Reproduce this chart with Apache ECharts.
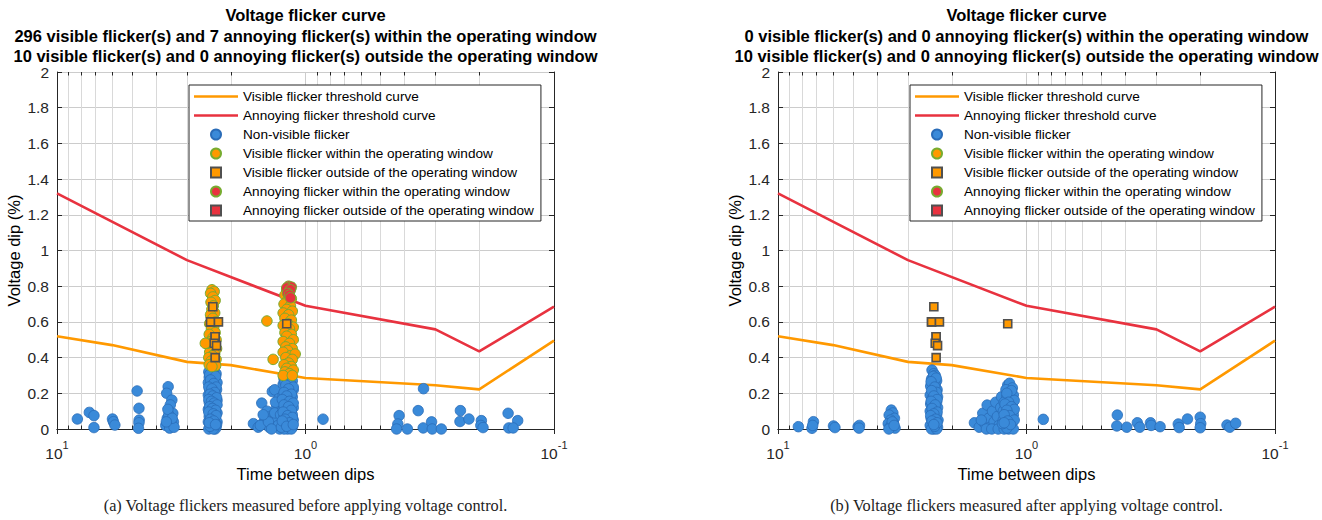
<!DOCTYPE html>
<html><head><meta charset="utf-8">
<script src="https://cdn.jsdelivr.net/npm/echarts@6/dist/echarts.min.js"></script>
<style>html,body{margin:0;padding:0;background:#fff}#c{width:1322px;height:520px}</style>
</head><body><div id="c"></div>
<script>
// ---------------- data ----------------
const TITLE_A = ['Voltage flicker curve',
  '296 visible flicker(s) and 7 annoying flicker(s) within the operating window',
  '10 visible flicker(s) and 0 annoying flicker(s) outside the operating window'];
const TITLE_B = ['Voltage flicker curve',
  '0 visible flicker(s) and 0 annoying flicker(s) within the operating window',
  '10 visible flicker(s) and 0 annoying flicker(s) outside the operating window'];
const CAPTION_A = '(a) Voltage flickers measured before applying voltage control.';
const CAPTION_B = '(b) Voltage flickers measured after applying voltage control.';
const X_NAME = 'Time between dips';
const Y_NAME = 'Voltage dip (%)';
const LEGEND_NAMES = ['Visible flicker threshold curve', 'Annoying flicker threshold curve',
  'Non-visible flicker', 'Visible flicker within the operating window',
  'Visible flicker outside of the operating window', 'Annoying flicker within the operating window',
  'Annoying flicker outside of the operating window'];

const VISIBLE_CURVE_X = [10, 6, 3, 2, 1, 0.3, 0.2, 0.1];
const VISIBLE_CURVE_Y = [0.52, 0.47, 0.376, 0.358, 0.286, 0.245, 0.222, 0.495];
const ANNOYING_CURVE_X = [10, 3, 1, 0.3, 0.2, 0.1];
const ANNOYING_CURVE_Y = [1.32, 0.946, 0.69, 0.558, 0.435, 0.685];

const MINOR_X = [9, 8, 7, 6, 5, 4, 3, 2, 0.9, 0.8, 0.7, 0.6, 0.5, 0.4, 0.3, 0.2];

// panel (a): before voltage control
const A_NONVISIBLE = [
  [8.28,0.056],[7.41,0.093],[7.10,0.075],[7.10,0.008],[5.98,0.056],[5.93,0.041],[5.85,0.022],
  [4.76,0.213],[4.68,0.116],[4.67,0.05],[4.68,0.035],[4.70,0.004],
  [3.57,0.237],[3.62,0.20],[3.45,0.162],[3.50,0.135],[3.42,0.088],[3.60,0.06],[3.48,0.03],[3.65,0.02],
  [3.52,0.005],[3.40,0.04],[3.55,0.08],[3.38,0.01],[3.58,0.11],[3.44,0.06],[3.63,0.04],
  [2.41,0.34],[2.33,0.33],[2.45,0.32],[2.29,0.31],[2.38,0.30],[2.44,0.29],[2.31,0.28],[2.36,0.27],
  [2.27,0.26],[2.46,0.26],[2.40,0.25],[2.33,0.24],[2.28,0.22],[2.43,0.22],[2.37,0.21],[2.30,0.19],
  [2.46,0.19],[2.39,0.18],[2.33,0.17],[2.27,0.16],[2.44,0.15],[2.36,0.14],[2.30,0.13],[2.41,0.12],
  [2.46,0.11],[2.33,0.10],[2.27,0.09],[2.39,0.08],[2.44,0.07],[2.31,0.06],[2.36,0.05],[2.27,0.04],
  [2.46,0.04],[2.41,0.03],[2.33,0.02],[2.29,0.01],[2.38,0.01],[2.45,0.00],[2.31,0.00],[2.35,0.00],
  [2.42,0.015],[2.28,0.025],
  [2.35,0.325],[2.43,0.305],[2.30,0.295],[2.41,0.275],[2.34,0.255],[2.29,0.235],[2.45,0.235],[2.38,0.225],
  [2.32,0.205],[2.42,0.195],[2.36,0.185],[2.28,0.175],[2.45,0.165],[2.39,0.155],[2.33,0.145],[2.27,0.135],
  [2.43,0.125],[2.37,0.115],[2.30,0.105],[2.45,0.095],[2.35,0.085],[2.29,0.075],[2.41,0.055],[2.34,0.045],
  [2.44,0.035],[2.30,0.025],
  [1.62,0.03],[1.55,0.01],[1.50,0.145],[1.47,0.04],[1.43,0.10],[1.40,0.01],[1.38,0.07],[1.36,0.21],
  [1.33,0.22],[1.35,0.03],[1.31,0.12],[1.30,0.05],[1.28,0.17],[1.27,0.00],[1.45,0.06],[1.52,0.02],
  [1.33,0.09],[1.29,0.02],[1.41,0.04],[1.37,0.00],[1.48,0.08],[1.26,0.08],[1.32,0.15],
  [1.20,0.30],[1.15,0.29],[1.22,0.28],[1.13,0.27],[1.18,0.26],[1.23,0.25],[1.14,0.24],[1.19,0.23],
  [1.12,0.22],[1.21,0.21],[1.16,0.20],[1.23,0.19],[1.13,0.18],[1.18,0.17],[1.21,0.15],[1.14,0.14],
  [1.19,0.13],[1.12,0.12],[1.23,0.11],[1.16,0.10],[1.20,0.09],[1.13,0.08],[1.22,0.07],[1.17,0.06],
  [1.12,0.05],[1.20,0.04],[1.15,0.03],[1.23,0.02],[1.13,0.01],[1.18,0.00],[1.22,0.00],[1.14,0.00],
  [1.25,0.01],
  [1.17,0.295],[1.21,0.265],[1.15,0.255],[1.20,0.245],[1.12,0.235],[1.17,0.225],[1.22,0.205],[1.14,0.195],
  [1.19,0.185],[1.24,0.165],[1.16,0.155],[1.12,0.145],[1.22,0.135],[1.17,0.125],[1.14,0.105],[1.23,0.095],
  [1.18,0.075],[1.13,0.065],[1.21,0.055],[1.16,0.035],[1.24,0.045],[1.19,0.015],[1.12,0.025],
  [0.85,0.055],[0.42,0.075],[0.425,0.028],[0.43,0.0],[0.389,0.0],[0.352,0.103],[0.335,0.226],
  [0.336,0.006],[0.311,0.04],[0.309,0.0],[0.284,0.0],[0.238,0.103],[0.239,0.042],[0.22,0.056],
  [0.196,0.047],[0.197,0.02],[0.193,0.008],[0.153,0.088],[0.152,0.006],[0.14,0.047],[0.146,0.006]
];
const A_VISIBLE_IN = [
  [2.38,0.78],[2.33,0.77],[2.41,0.76],[2.36,0.74],[2.31,0.72],[2.40,0.71],[2.35,0.69],[2.38,0.67],
  [2.32,0.65],[2.41,0.64],[2.36,0.62],[2.30,0.60],[2.43,0.59],[2.34,0.57],[2.39,0.56],[2.31,0.54],
  [2.44,0.53],[2.36,0.51],[2.29,0.50],[2.41,0.49],[2.34,0.47],[2.46,0.47],[2.38,0.45],[2.28,0.45],
  [2.43,0.43],[2.32,0.42],[2.37,0.41],[2.45,0.40],[2.29,0.39],[2.40,0.38],[2.34,0.37],[2.44,0.36],
  [2.30,0.355],[2.38,0.35],[2.47,0.48],[2.53,0.48],
  [1.19,0.78],[1.16,0.77],[1.21,0.75],[1.14,0.73],[1.18,0.72],[1.22,0.70],[1.15,0.69],[1.19,0.67],
  [1.13,0.66],[1.23,0.65],[1.17,0.64],[1.21,0.62],[1.14,0.61],[1.18,0.59],[1.23,0.58],[1.12,0.57],
  [1.16,0.56],[1.21,0.54],[1.14,0.53],[1.19,0.52],[1.12,0.50],[1.23,0.49],[1.16,0.48],[1.20,0.46],
  [1.13,0.45],[1.18,0.44],[1.23,0.43],[1.15,0.41],[1.10,0.42],[1.20,0.40],[1.13,0.39],[1.17,0.37],
  [1.22,0.36],[1.14,0.35],[1.19,0.34],[1.12,0.33],[1.21,0.32],[1.16,0.31],[1.23,0.30],[1.13,0.30],
  [1.43,0.605],[1.35,0.39]
];
const A_VISIBLE_OUT = [[2.36,0.685],[2.41,0.60],[2.41,0.60],[2.24,0.60],[2.31,0.517],[2.31,0.517],
  [2.33,0.48],[2.28,0.467],[2.31,0.40],[1.19,0.59]];
const A_ANNOYING_IN = [[1.17,0.80],[1.14,0.795],[1.19,0.79],[1.15,0.78],[1.18,0.76],[1.16,0.75],[1.15,0.735]];
const A_ANNOYING_OUT = [];

// panel (b): after voltage control
const B_NONVISIBLE = [
  [8.28,0.013],[7.3,0.004],[7.2,0.041],[7.25,0.02],[5.98,0.017],[5.9,0.008],[4.76,0.013],[4.70,0.02],[4.72,0.005],
  [3.50,0.106],[3.45,0.09],[3.57,0.078],[3.40,0.06],[3.52,0.05],[3.60,0.03],[3.43,0.032],[3.48,0.015],
  [3.38,0.005],[3.55,0.01],[3.47,0.04],[3.58,0.0],[3.41,0.02],
  [2.40,0.33],[2.36,0.31],[2.33,0.30],[2.41,0.28],[2.30,0.27],[2.37,0.26],[2.33,0.245],[2.43,0.24],
  [2.29,0.22],[2.38,0.21],[2.34,0.20],[2.44,0.19],[2.28,0.18],[2.40,0.17],[2.35,0.16],[2.30,0.15],
  [2.43,0.14],[2.37,0.13],[2.28,0.12],[2.33,0.11],[2.44,0.10],[2.39,0.09],[2.30,0.08],[2.35,0.07],
  [2.42,0.06],[2.27,0.05],[2.38,0.04],[2.32,0.03],[2.44,0.02],[2.28,0.01],[2.36,0.00],[2.41,0.00],
  [2.30,0.00],[2.34,0.015],
  [2.37,0.295],[2.31,0.285],[2.42,0.265],[2.34,0.235],[2.30,0.205],[2.41,0.215],[2.36,0.185],[2.29,0.165],
  [2.42,0.155],[2.33,0.135],[2.40,0.115],[2.29,0.095],[2.36,0.085],[2.43,0.075],[2.32,0.055],[2.40,0.045],
  [2.29,0.035],[2.36,0.025],
  [1.62,0.035],[1.55,0.01],[1.50,0.088],[1.47,0.03],[1.44,0.134],[1.42,0.06],[1.40,0.01],[1.37,0.10],
  [1.35,0.04],[1.33,0.15],[1.31,0.07],[1.29,0.02],[1.27,0.12],[1.26,0.18],[1.52,0.05],[1.45,0.00],
  [1.38,0.00],[1.30,0.00],
  [1.19,0.246],[1.17,0.256],[1.14,0.23],[1.21,0.22],[1.16,0.209],[1.13,0.19],[1.20,0.18],[1.17,0.165],
  [1.23,0.15],[1.14,0.14],[1.19,0.13],[1.22,0.115],[1.15,0.10],[1.18,0.09],[1.13,0.08],[1.21,0.07],
  [1.16,0.06],[1.24,0.05],[1.14,0.04],[1.19,0.03],[1.22,0.02],[1.15,0.01],[1.18,0.00],[1.13,0.00],
  [1.23,0.00],[1.20,0.005],[1.25,0.03],[1.24,0.10],
  [1.15,0.215],[1.20,0.2],[1.12,0.16],[1.18,0.15],[1.22,0.14],[1.15,0.125],[1.12,0.11],[1.20,0.105],
  [1.17,0.075],[1.23,0.08],[1.12,0.05],[1.19,0.045],[1.16,0.025],[1.23,0.035],
  [0.856,0.054],[0.431,0.078],[0.433,0.017],[0.395,0.01],[0.358,0.035],[0.350,0.01],[0.317,0.035],
  [0.315,0.02],[0.29,0.013],[0.245,0.028],[0.243,0.008],[0.225,0.056],[0.2,0.066],[0.199,0.03],
  [0.2,0.007],[0.156,0.022],[0.152,0.01],[0.144,0.032]
];
const B_VISIBLE_IN = [];
const B_VISIBLE_OUT = [[2.36,0.685],[2.41,0.60],[2.41,0.60],[2.24,0.60],[2.31,0.517],[2.31,0.517],
  [2.33,0.48],[2.28,0.467],[2.31,0.40],[1.19,0.59]];
const B_ANNOYING_IN = [];
const B_ANNOYING_OUT = [];

// ---------------- styling ----------------
const FONT = "'Liberation Sans', Arial, Helvetica, sans-serif";
const AX = '#262626';
const C_ORANGE = '#ff9900';
const C_RED = '#e8323f';
const C_BLUE = '#3a8ad9';
const C_BLUE_EDGE = '#2a6cb8';
const C_GREEN_EDGE = '#77ac30';
const C_SQ_EDGE = '#505050';

const GRIDS = [{left: 57, top: 72, width: 497, height: 357}, {left: 778, top: 72, width: 497, height: 357}];
const TITLE_LINE_CENTERS = [14.5, 35.5, 56];

function zip(xs, ys) { return xs.map((x, i) => [x, ys[i]]); }

const LINE_ICON = 'path://M0 0H44V2.6H0Z';
const SQUARE_ICON = 'path://M0 0H10V10H0Z';
const LEGEND_ICONS = [LINE_ICON, LINE_ICON, 'circle', 'circle', SQUARE_ICON, 'circle', SQUARE_ICON];

const xAxes = [], yAxes = [], series = [], titles = [], legends = [];
const panels = [
  {title: TITLE_A, caption: CAPTION_A, nonvis: A_NONVISIBLE, visIn: A_VISIBLE_IN, visOut: A_VISIBLE_OUT, annIn: A_ANNOYING_IN, annOut: A_ANNOYING_OUT},
  {title: TITLE_B, caption: CAPTION_B, nonvis: B_NONVISIBLE, visIn: B_VISIBLE_IN, visOut: B_VISIBLE_OUT, annIn: B_ANNOYING_IN, annOut: B_ANNOYING_OUT}
];

panels.forEach((p, gi) => {
  const g = GRIDS[gi];
  const cx = g.left + g.width / 2;
  const xb = gi * 2, yl = gi * 2;
  xAxes.push({
    type: 'log', logBase: 10, min: 0.1, max: 10, inverse: true, gridIndex: gi, position: 'bottom',
    name: X_NAME, nameLocation: 'middle', nameGap: 33,
    nameTextStyle: {fontFamily: FONT, fontSize: 16.5, color: '#000'},
    axisLine: {show: true, lineStyle: {color: AX, width: 1}},
    axisTick: {show: true, inside: true, length: 5, lineStyle: {color: AX}},
    axisLabel: {show: true, showMinLabel: true, showMaxLabel: true, margin: 10,
      formatter: v => '{b|10}{s|' + Math.round(Math.log10(v)) + '}',
      rich: {b: {fontFamily: FONT, fontSize: 15.5, color: AX, lineHeight: 22, verticalAlign: 'bottom'},
             s: {fontFamily: FONT, fontSize: 11, color: AX, lineHeight: 12, verticalAlign: 'top'}}},
    splitLine: {show: true, lineStyle: {color: '#cccccc', width: 1}}
  });
  xAxes.push({
    type: 'log', logBase: 10, min: 0.1, max: 10, inverse: true, gridIndex: gi, position: 'top',
    axisLine: {show: true, lineStyle: {color: AX, width: 1}},
    axisTick: {show: true, inside: true, length: 5, lineStyle: {color: AX}},
    axisLabel: {show: false}, splitLine: {show: false}
  });
  yAxes.push({
    type: 'value', min: 0, max: 2, interval: 0.2, gridIndex: gi, position: 'left',
    name: Y_NAME, nameLocation: 'middle', nameGap: 35,
    nameTextStyle: {fontFamily: FONT, fontSize: 16.5, color: '#000'},
    axisLine: {show: true, lineStyle: {color: AX, width: 1}},
    axisTick: {show: true, inside: true, length: 5, lineStyle: {color: AX}},
    axisLabel: {show: true, margin: 8, fontFamily: FONT, fontSize: 15.5, lineHeight: 12, color: AX, showMinLabel: true, showMaxLabel: true},
    splitLine: {show: true, lineStyle: {color: '#cccccc', width: 1}}
  });
  yAxes.push({
    type: 'value', min: 0, max: 2, interval: 0.2, gridIndex: gi, position: 'right',
    axisLine: {show: true, lineStyle: {color: AX, width: 1}},
    axisTick: {show: true, inside: true, length: 5, lineStyle: {color: AX}},
    axisLabel: {show: false}, splitLine: {show: false}
  });

  series.push({
    type: 'custom', name: 'minor grid ' + gi, xAxisIndex: xb, yAxisIndex: yl, silent: true, z: 1,
    data: MINOR_X.map(v => [v, 0]),
    renderItem: function (params, api) {
      const x = Math.round(api.coord([api.value(0), 0])[0]) + 0.5;
      const cs = params.coordSys;
      const top = cs.y, bot = cs.y + cs.height;
      return {type: 'group', children: [
        {type: 'line', shape: {x1: x, y1: top, x2: x, y2: bot}, style: {stroke: '#d9d9d9', lineWidth: 1}},
        {type: 'line', shape: {x1: x, y1: bot, x2: x, y2: bot - 3.5}, style: {stroke: AX, lineWidth: 1}},
        {type: 'line', shape: {x1: x, y1: top, x2: x, y2: top + 3.5}, style: {stroke: AX, lineWidth: 1}}
      ]};
    }
  });
  series.push({type: 'line', name: LEGEND_NAMES[0], xAxisIndex: xb, yAxisIndex: yl, symbol: 'none', showSymbol: false, z: 3,
    data: zip(VISIBLE_CURVE_X, VISIBLE_CURVE_Y), lineStyle: {color: C_ORANGE, width: 2.6}, itemStyle: {color: C_ORANGE, borderWidth: 0}});
  series.push({type: 'line', name: LEGEND_NAMES[1], xAxisIndex: xb, yAxisIndex: yl, symbol: 'none', showSymbol: false, z: 3,
    data: zip(ANNOYING_CURVE_X, ANNOYING_CURVE_Y), lineStyle: {color: C_RED, width: 2.6}, itemStyle: {color: C_RED, borderWidth: 0}});
  series.push({type: 'scatter', name: LEGEND_NAMES[2], xAxisIndex: xb, yAxisIndex: yl, symbol: 'circle', symbolSize: 10.5, z: 4,
    data: p.nonvis, itemStyle: {color: C_BLUE, borderColor: C_BLUE_EDGE, borderWidth: 0.8, opacity: 1}});
  series.push({type: 'scatter', name: LEGEND_NAMES[3], xAxisIndex: xb, yAxisIndex: yl, symbol: 'circle', symbolSize: 10.5, z: 5,
    data: p.visIn, itemStyle: {color: C_ORANGE, borderColor: C_GREEN_EDGE, borderWidth: 1, opacity: 1}});
  series.push({type: 'scatter', name: LEGEND_NAMES[4], xAxisIndex: xb, yAxisIndex: yl, symbol: 'rect', symbolSize: 8, z: 7,
    data: p.visOut, itemStyle: {color: C_ORANGE, borderColor: C_SQ_EDGE, borderWidth: 1.6, opacity: 1}});
  series.push({type: 'scatter', name: LEGEND_NAMES[5], xAxisIndex: xb, yAxisIndex: yl, symbol: 'circle', symbolSize: 10.5, z: 6,
    data: p.annIn, itemStyle: {color: C_RED, borderColor: C_GREEN_EDGE, borderWidth: 1, opacity: 1}});
  series.push({type: 'scatter', name: LEGEND_NAMES[6], xAxisIndex: xb, yAxisIndex: yl, symbol: 'rect', symbolSize: 8, z: 7,
    data: p.annOut, itemStyle: {color: C_RED, borderColor: C_SQ_EDGE, borderWidth: 1.6, opacity: 1}});

  p.title.forEach((line, li) => {
    titles.push({text: line, left: cx, top: TITLE_LINE_CENTERS[li] - 8, textAlign: 'center', padding: 0,
      textStyle: {fontFamily: FONT, fontSize: 16.5, fontWeight: 'bold', color: '#000', lineHeight: 16}});
  });
  titles.push({text: p.caption, left: cx, top: 495, textAlign: 'center', padding: 0,
    textStyle: {fontFamily: "'Liberation Serif', 'DejaVu Serif', serif", fontSize: 16.3, fontWeight: 'normal', color: '#222', lineHeight: 20}});

  legends.push({
    show: true, orient: 'vertical', left: g.left + 132, top: 85, selectedMode: false,
    data: LEGEND_NAMES.map((n, i) => ({name: n, icon: LEGEND_ICONS[i]})),
    itemWidth: 44, itemHeight: 10, itemGap: 0,
    padding: [2, 7, 1, 5], borderColor: AX, borderWidth: 1, borderRadius: 0, backgroundColor: '#fff',
    textStyle: {fontFamily: FONT, fontSize: 13.6, color: '#000', lineHeight: 19}
  });
});

const chart = echarts.init(document.getElementById('c'), null, {renderer: 'svg'});
chart.setOption({
  animation: false,
  backgroundColor: '#fff',
  title: titles,
  legend: legends,
  grid: GRIDS.map(g => Object.assign({containLabel: false, outerBoundsMode: 'none'}, g)),
  xAxis: xAxes,
  yAxis: yAxes,
  series: series
});
</script></body></html>
